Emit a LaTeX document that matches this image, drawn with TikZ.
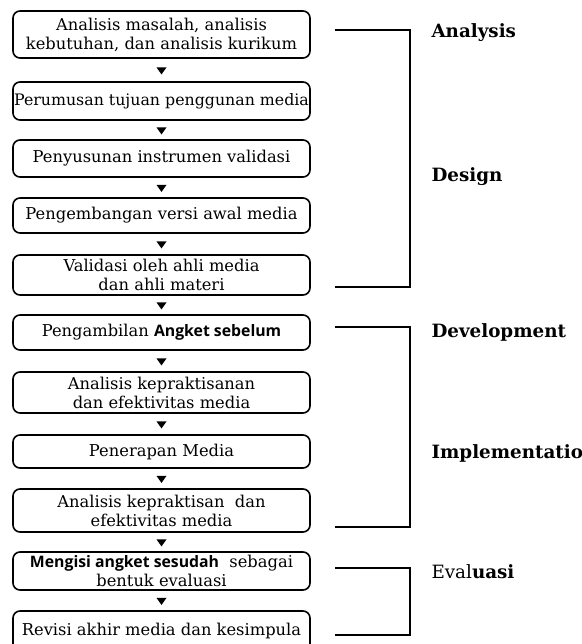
\documentclass[tikz,border=0pt]{standalone}
\usepackage{fontspec}
\setmainfont{DejaVu Serif}
\newfontfamily\boldsans{Open Sans}
\usetikzlibrary{shapes.geometric}

\tikzset{
  stepbox/.style={draw, line width=1.6pt, rounded corners=7pt, minimum width=297pt,
    align=center, inner xsep=0pt, inner ysep=2pt, font=\fontsize{16.3}{19}\selectfont},
  tri/.style={isosceles triangle, isosceles triangle stretches, shape border rotate=-90,
    fill=black, inner sep=0pt, minimum width=10pt, minimum height=7pt},
  phase/.style={anchor=west, font=\fontsize{18.3}{20}\selectfont\bfseries},
  brk/.style={line width=1.5pt}
}
\newcommand{\sansbf}[1]{{\boldsans\bfseries\fontsize{15.8}{19}\selectfont #1}}

\begin{document}
\begin{tikzpicture}[x=1pt,y=-1pt]
          \useasboundingbox (0,0) rectangle (581,644);

          \node[stepbox, minimum height=47pt] (b1) at (161.5,34.5) {Analisis masalah, analisis\\kebutuhan, dan analisis kurikum};
          \node[stepbox, minimum height=38pt, font=\fontsize{15.8}{19}\selectfont] (b2) at (161.5,101) {Perumusan tujuan penggunan media};
          \node[stepbox, minimum height=37pt] (b3) at (161.5,158.5) {Penyusunan instrumen validasi};
          \node[stepbox, minimum height=35pt] (b4) at (161.5,215.5) {Pengembangan versi awal media};
          \node[stepbox, minimum height=40pt] (b5) at (161.5,275) {Validasi oleh ahli media\\dan ahli materi};
          \node[stepbox, minimum height=35pt] (b6) at (161.5,332.5) {Pengambilan \sansbf{Angket sebelum}};
          \node[stepbox, minimum height=41pt] (b7) at (161.5,392.5) {Analisis kepraktisanan\\dan efektivitas media};
          \node[stepbox, minimum height=33pt] (b8) at (161.5,451.5) {Penerapan Media};
          \node[stepbox, minimum height=43pt] (b9) at (161.5,510.5) {Analisis kepraktisan\ \ dan\\efektivitas media};
          \node[stepbox, minimum height=38pt] (b10) at (161.5,571) {\sansbf{Mengisi angket sesudah}\ \ sebagai\\bentuk evaluasi};
          \node[stepbox, minimum height=40pt] (b11) at (161.5,631) {Revisi akhir media dan kesimpula};

          \foreach \a/\b in {b1/b2,b2/b3,b3/b4,b4/b5,b5/b6,b6/b7,b7/b8,b8/b9,b9/b10,b10/b11}
            \path (\a.south) -- node[tri]{} (\b.north);

          % phase brackets
          \coordinate (a1) at (335,30);
          \coordinate (a2) at (410,287);
          \draw[brk] (a1) -- (a2 |- a1) -- (a2) -- (a1 |- a2);
          \coordinate (d1) at (335,327);
          \coordinate (d2) at (410,527);
          \draw[brk] (d1) -- (d2 |- d1) -- (d2) -- (d1 |- d2);
          \coordinate (e1) at (335,568);
          \coordinate (e2) at (410,635);
          \draw[brk] (e1) -- (e2 |- e1) -- (e2) -- (e1 |- e2);

          \node[phase] (analysis) at (428,33) {Analysis};
          \node[phase] (design) at (428,177) {Design};
          \node[phase] (development) at (428,332) {Development};
          \node[phase] (implementation) at (428,453) {Implementation};
          \node[phase] (evaluasi) at (428,572) {{\mdseries Eval}uasi};
      \end{tikzpicture}
\end{document}
